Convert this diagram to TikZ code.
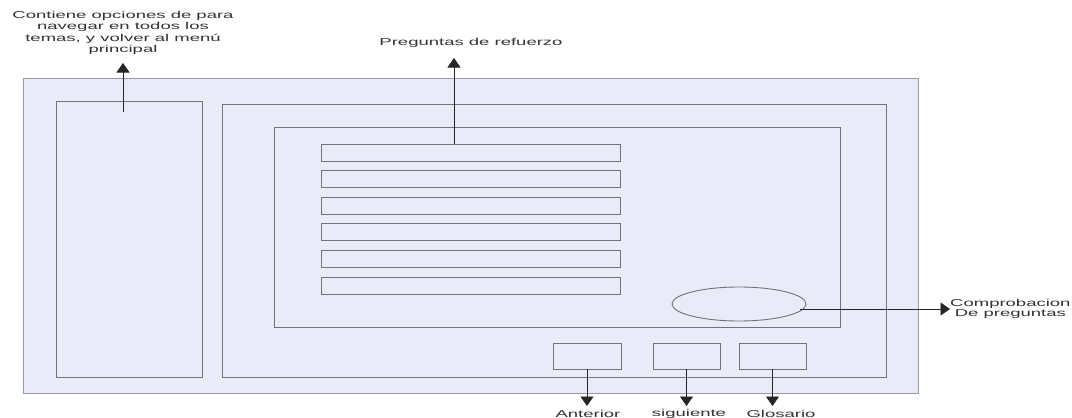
\documentclass[tikz,border=0pt]{standalone}
\usepackage{fontspec}
\newfontfamily\labfont[FakeStretch=1.85]{Liberation Sans}
\usetikzlibrary{arrows.meta,shapes.geometric}
\definecolor{panelfill}{RGB}{233,236,248}
\definecolor{outerline}{RGB}{150,154,164}
\definecolor{innerline}{RGB}{112,115,124}
\tikzset{
  box/.style={draw=#1, fill=panelfill, line width=0.9pt, inner sep=0pt, outer sep=0pt, rectangle},
  box/.default=innerline,
  bar/.style={box, minimum width=299pt, minimum height=17pt},
  btn/.style={box, minimum width=67pt, minimum height=26pt},
  conn/.style={draw=black!85, line width=0.8pt, -{Triangle[width=13pt,length=9.5pt]}},
  lab/.style={font=\labfont\fontsize{10}{11.5}\selectfont, inner sep=0pt, text=black!80, align=center}
}
\begin{document}
\begin{tikzpicture}[x=1pt,y=-1pt]
\useasboundingbox[fill=white] (0,0) rectangle (1072,418);
% panels
\node[box=outerline, minimum width=895pt, minimum height=315pt] (outer) at (470.5,235.5) {};
\node[box, minimum width=146pt, minimum height=276pt] (menu) at (129,239) {};
\node[box, minimum width=664pt, minimum height=273pt] (main) at (554,240.5) {};
\node[box, minimum width=566pt, minimum height=200pt] (content) at (557,227) {};
% question bars
\foreach \i in {0,...,5} {
  \node[bar] (q\i) at (470.5,{152.5+26.6*\i}) {};
}
% check ellipse
\node[ellipse, draw=innerline, fill=panelfill, line width=0.9pt, minimum width=134pt, minimum height=34pt, inner sep=0pt] (check) at (739,304) {};
% buttons
\node[btn, minimum width=68pt] (ant) at (587,356) {};
\node[btn] (sig) at (686.5,356) {};
\node[btn] (glo) at (772.5,356) {};
% labels
\node[lab] (menulab) at (123,33) {Contiene opciones de para\\navegar en todos los\\temas, y volver al menú\\principal};
\node[lab] (preglab) at (471,43) {Preguntas de refuerzo};
\node[lab, anchor=west, font=\labfont\fontsize{10}{10}\selectfont] (complab) at (950,309) {Comprobacion\\De preguntas};
\node[lab] (antlab) at (588,414) {Anterior};
\node[lab] (siglab) at (689,414) {siguiente};
\node[lab] (glolab) at (781,414) {Glosario};
% connector ends
\coordinate (menustart) at (123,112);
\coordinate (menutip) at (123,63);
\coordinate (pregtip) at (454,58);
\coordinate (checkstart) at (800,309);
\coordinate (anttip) at (587,406);
\coordinate (sigtip) at (686.5,406);
\coordinate (glotip) at (772.5,406);
% connectors
\draw[conn] (menustart) -- (menutip);
\draw[conn] (q0.north -| pregtip) -- (pregtip);
\draw[conn] (checkstart) -- (complab.west);
\draw[conn] (ant.south) -- (anttip);
\draw[conn] (sig.south) -- (sigtip);
\draw[conn] (glo.south) -- (glotip);
\end{tikzpicture}
\end{document}
